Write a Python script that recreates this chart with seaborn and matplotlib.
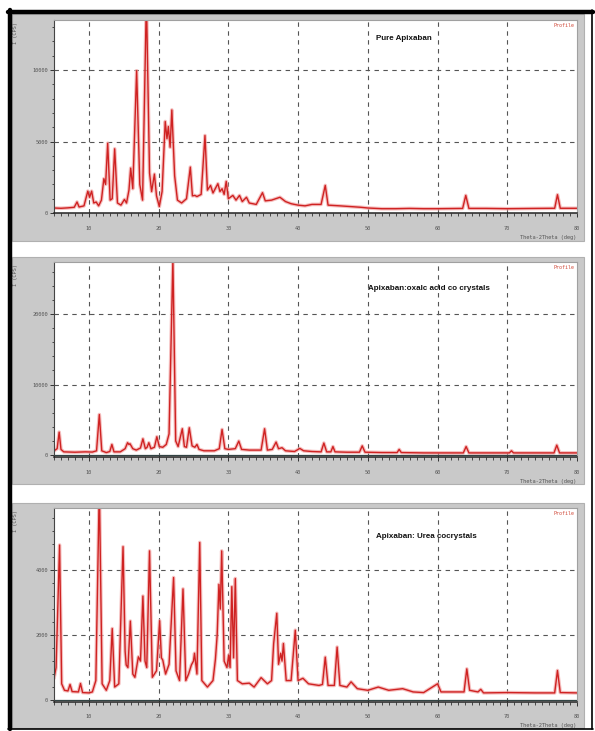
import matplotlib
matplotlib.use("Agg")
import matplotlib.pyplot as plt
from matplotlib.patches import Rectangle
from matplotlib.ticker import MultipleLocator
import seaborn as sns
import pandas as pd

sns.set_theme(style="white")
plt.rcParams['font.family'] = ['DejaVu Sans']

# ---------------- data (2theta, intensity vertices) ----------------
pure_theta = [5.0, 6.0, 7.0, 7.9, 8.3, 8.6, 9.3, 9.85, 10.1, 10.4, 10.7, 11.05, 11.4, 11.8, 12.15, 12.4,
              12.7, 13.05, 13.35, 13.7, 14.1, 14.6, 15.1, 15.4, 15.75, 16.0, 16.3, 16.85, 17.3, 17.7,
              18.25, 18.7, 19.0, 19.4, 19.7, 20.1, 20.5, 20.95, 21.2, 21.4, 21.65, 21.9, 22.3, 22.7,
              23.3, 24.0, 24.55, 24.85, 25.2, 25.5, 26.1, 26.65, 27.0, 27.45, 27.8, 28.5, 28.8, 29.1,
              29.4, 29.7, 30.0, 30.65, 31.1, 31.6, 32.0, 32.6, 33.0, 34.0, 34.9, 35.3, 36.2, 37.4,
              38.2, 39.0, 40.0, 41.0, 42.0, 43.3, 43.9, 44.3, 46.0, 47.5, 49.0, 50.0, 52.0, 54.0,
              56.0, 58.0, 60.0, 63.6, 64.05, 64.5, 67.0, 70.0, 74.0, 76.8, 77.2, 77.6, 80.0]
pure_int = [350, 330, 360, 400, 770, 420, 500, 1530, 1100, 1530, 700, 770, 500, 900, 2400, 2000,
            4880, 900, 1000, 4490, 700, 550, 950, 700, 1600, 3140, 1700, 9950, 2000, 900,
            15000, 2800, 1500, 2720, 1200, 450, 1500, 6400, 5200, 6050, 4600, 7210, 2600, 900,
            700, 1000, 3210, 1200, 1230, 1150, 1300, 5420, 1600, 1930, 1400, 2050, 1500, 1700,
            1300, 2210, 1000, 1230, 900, 1230, 800, 1100, 700, 600, 1420, 850, 900, 1100,
            800, 650, 550, 500, 600, 600, 1930, 550, 500, 450, 400, 350, 300, 300,
            320, 300, 300, 320, 1230, 320, 320, 300, 320, 330, 1280, 330, 330]

oxalic_theta = [5.0, 5.45, 5.74, 6.0, 6.4, 8.0, 9.5, 10.5, 11.1, 11.5, 11.85, 12.5, 13.0, 13.3, 13.6,
                14.5, 15.2, 15.55, 15.75, 15.9, 16.3, 16.8, 17.4, 17.75, 18.1, 18.35, 18.6, 18.9,
                19.4, 19.75, 20.1, 20.6, 21.1, 21.5, 22.05, 22.45, 22.8, 23.4, 23.7, 24.0, 24.4,
                24.8, 25.2, 25.5, 25.8, 26.5, 28.0, 28.7, 29.1, 29.5, 30.0, 31.0, 31.5, 31.9, 33.0,
                34.7, 35.2, 35.6, 36.3, 36.85, 37.2, 37.7, 38.2, 39.5, 40.25, 40.8, 42.0, 43.3,
                43.7, 44.1, 44.7, 45.0, 45.3, 47.0, 48.8, 49.2, 49.6, 52.0, 54.2, 54.5, 54.8, 58.0,
                63.7, 64.1, 64.5, 70.3, 70.6, 70.9, 76.7, 77.1, 77.5, 80.0]
oxalic_int = [600, 900, 3250, 800, 450, 400, 450, 420, 600, 5750, 600, 350, 500, 1500, 450,
              450, 900, 1750, 1500, 1600, 900, 700, 1000, 2300, 900, 1100, 1750, 900,
              1100, 2600, 1200, 1100, 1500, 3000, 27800, 2000, 1200, 3730, 1200, 1100, 3870,
              1300, 1100, 1500, 800, 600, 600, 900, 3630, 900, 800, 900, 1980, 800, 700,
              700, 3730, 700, 800, 1840, 900, 1040, 600, 500, 940, 600, 500, 450,
              1700, 450, 450, 1200, 450, 400, 400, 1300, 400, 350, 350, 800, 350, 300,
              300, 1200, 300, 300, 600, 300, 300, 1400, 300, 300]

urea_theta = [5.0, 5.3, 5.8, 6.1, 6.5, 7.0, 7.3, 7.6, 8.5, 8.8, 9.1, 10.0, 10.5, 11.0, 11.5, 11.9,
              12.5, 13.0, 13.35, 13.7, 14.3, 14.9, 15.2, 15.35, 15.6, 15.95, 16.3, 16.6, 17.1,
              17.4, 17.75, 18.05, 18.3, 18.7, 19.1, 19.7, 20.15, 20.4, 20.6, 21.0, 21.5, 22.15,
              22.5, 23.0, 23.5, 23.9, 24.3, 24.7, 25.0, 25.15, 25.5, 25.9, 26.2, 27.0, 27.8, 28.15,
              28.4, 28.65, 28.85, 29.05, 29.4, 29.8, 30.05, 30.25, 30.5, 30.75, 31.0, 31.3, 32.0,
              33.0, 33.7, 34.7, 35.6, 36.2, 36.5, 36.95, 37.2, 37.5, 37.7, 37.9, 38.3, 39.0, 39.6,
              40.0, 40.7, 41.5, 43.0, 43.5, 43.9, 44.3, 45.2, 45.6, 46.0, 47.0, 47.6, 48.5, 50.0,
              51.5, 53.0, 55.0, 56.5, 58.0, 60.0, 60.5, 63.8, 64.2, 64.6, 65.8, 66.2, 66.6, 70.0,
              74.0, 76.8, 77.2, 77.6, 80.0]
urea_int = [670, 1000, 4770, 500, 300, 280, 480, 260, 250, 510, 230, 220, 250, 600, 6600, 500,
            300, 600, 2200, 400, 500, 4720, 1500, 1080, 1000, 2430, 800, 700, 1330,
            1200, 3200, 1200, 1000, 4590, 700, 900, 2440, 1300, 1230, 800, 1100, 3770,
            900, 600, 3420, 600, 800, 1080, 1200, 1440, 800, 4850, 600, 400, 600, 1260,
            2000, 3560, 2800, 4590, 1200, 1000, 1380, 1000, 3490, 1300, 3740, 600, 500,
            520, 400, 690, 500, 600, 1740, 2670, 1100, 1440, 1200, 1740, 600, 600, 2150,
            600, 670, 500, 450, 480, 1320, 450, 450, 1630, 450, 400, 560, 350, 300,
            400, 300, 350, 250, 230, 500, 250, 250, 960, 300, 250, 330, 220, 230,
            220, 220, 910, 230, 220]

titles = ["Pure Apixaban", "Apixaban:oxalc acid co crystals", "Apixaban: Urea cocrystals"]
x_ticks = [10, 20, 30, 40, 50, 60, 70, 80]
y_ticks = [[0, 5000, 10000], [0, 10000, 20000], [0, 2000, 4000]]

# ---------------- layout ----------------
W, H = 595, 731
fig = plt.figure(figsize=(W / 100, H / 100), dpi=100)
fig.patch.set_facecolor("white")

def fx(px):
    return px / W

def fy(py):
    return 1 - py / H

# grey panel frames (pixel coords: x0, y0, x1, y1)
grey_boxes = [(12, 14, 584, 241), (12, 257, 584, 484), (12, 503, 584, 728)]
for (x0, y0, x1, y1) in grey_boxes:
    fig.patches.append(Rectangle((fx(x0), fy(y1)), fx(x1 - x0), (y1 - y0) / H,
                                 transform=fig.transFigure, facecolor="#c9c9c9",
                                 edgecolor="#b0b0b0", lw=0.8, zorder=-10))

# outer black border
for xs, ys, lw in [([9.5, 9.5], [10, 729], 3.2), ([8, 593], [11.5, 11.5], 3.2),
                   ([592, 592], [10, 729], 1.2), ([8, 593], [729, 729], 1.2)]:
    fig.add_artist(plt.Line2D([fx(v) for v in xs], [fy(v) for v in ys], color="black", lw=lw,
                              transform=fig.transFigure, zorder=20))

# plot areas: (left, top, right, bottom) in pixels, y-limits
areas = [(54, 20, 577, 213), (54, 262, 577, 457), (54, 508, 577, 702)]
ylims = [(0, 13500), (-280, 27400), (-60, 5910)]
minor_y = [1000, 2000, 400]
title_pos = [(376, 39), (368, 289), (376, 536)]
data = [(pure_theta, pure_int), (oxalic_theta, oxalic_int), (urea_theta, urea_int)]
mono = "DejaVu Sans Mono"

for i, ((l, t, r, b), (th, inten)) in enumerate(zip(areas, data)):
    ax = fig.add_axes([fx(l), fy(b), (r - l) / W, (b - t) / H])
    ax.set_zorder(5)
    ax.set_facecolor("white")
    df = pd.DataFrame({"2theta": th, "I": inten})
    sns.lineplot(data=df, x="2theta", y="I", ax=ax, color="#f2a3a3", lw=2.6,
                 estimator=None, sort=False, alpha=0.7)
    sns.lineplot(data=df, x="2theta", y="I", ax=ax, color="#cf2222", lw=1.0,
                 estimator=None, sort=False)
    ax.set_xlim(5, 80)
    ax.set_ylim(*ylims[i])
    ax.set_xlabel("")
    ax.set_ylabel("")
    # grid
    for gx in x_ticks[:-1]:
        ax.axvline(gx, color="#555555", lw=0.8, ls=(0, (4, 4)), zorder=0)
    for gy in y_ticks[i][1:]:
        ax.axhline(gy, color="#555555", lw=0.8, ls=(0, (4, 4)), zorder=0)
    if i > 0:
        ax.axhline(0, color="#334444", lw=0.9)
    ax.set_xticks(x_ticks)
    ax.set_xticklabels([str(v) for v in x_ticks], fontsize=3.8, family=mono, color="#555555")
    ax.set_yticks(y_ticks[i])
    ax.set_yticklabels([str(v) for v in y_ticks[i]], fontsize=3.8, family=mono, color="#555555")
    ax.xaxis.set_minor_locator(MultipleLocator(1))
    ax.yaxis.set_minor_locator(MultipleLocator(minor_y[i]))
    ax.tick_params(axis="both", which="major", direction="out", length=3, width=0.7,
                   color="#333333", pad=1.5, bottom=True, left=True)
    ax.tick_params(axis="x", which="major", pad=6)
    ax.tick_params(axis="both", which="minor", direction="out", length=1.8, width=0.6,
                   color="#333333", bottom=True, left=True)
    for side in ["top", "right"]:
        ax.spines[side].set_color("#a0a0a0")
        ax.spines[side].set_linewidth(0.8)
    ax.spines["bottom"].set_color("#222222")
    ax.spines["bottom"].set_linewidth(1.1)
    ax.spines["left"].set_color("#444444")
    ax.spines["left"].set_linewidth(0.8)
    # texts
    ax.text(0.995, 0.985, "Profile", transform=ax.transAxes, ha="right", va="top",
            fontsize=3.6, family=mono, color="#d04a3a")
    fig.text(fx(title_pos[i][0]), fy(title_pos[i][1]), titles[i], ha="left", va="center",
             fontsize=5.8, fontweight="bold", fontstretch="condensed",
             family=["Liberation Sans", "DejaVu Sans"], color="#111111", zorder=30)
    fig.text(fx(16), fy(t + 2), "I (CPS)", rotation=90, ha="center", va="top",
             fontsize=3.8, family=mono, color="#555555")
    fig.text(fx(576), fy(b + 24), "Theta-2Theta (deg)", ha="right", va="center",
             fontsize=3.8, family=mono, color="#555555")

fig.savefig("out.png", dpi=100, facecolor="white")
